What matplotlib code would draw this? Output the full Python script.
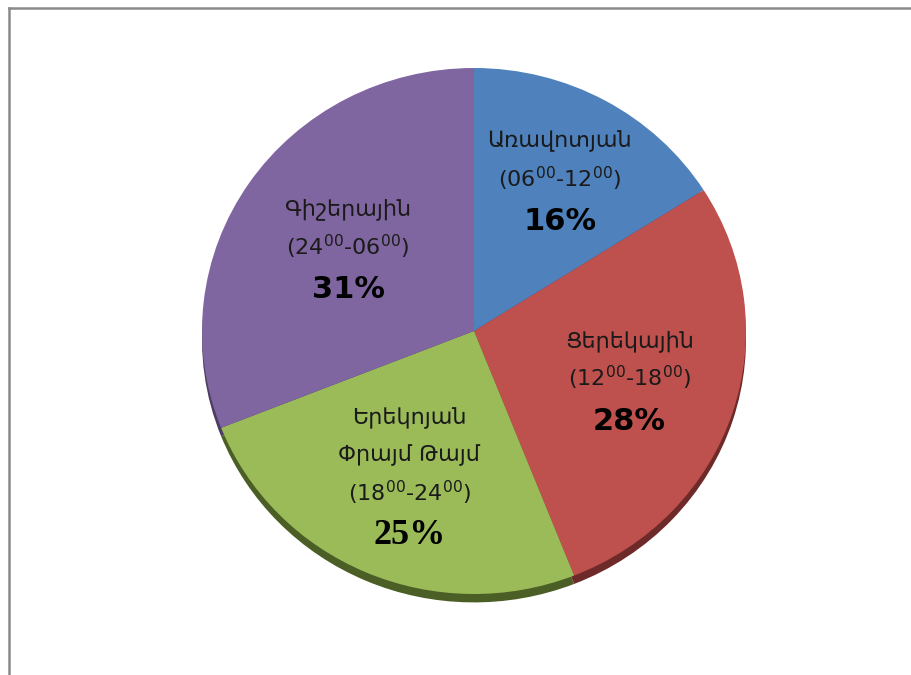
import matplotlib
matplotlib.use("Agg")
import matplotlib.pyplot as plt
from matplotlib.lines import Line2D
import numpy as np

# ---- data ----
names = ["Առավոտյան", "Ցերեկային", "Երեկոյան\nՓրայմ Թայմ", "Գիշերային"]
time_ranges = ["(06$^{00}$-12$^{00}$)", "(12$^{00}$-18$^{00}$)",
               "(18$^{00}$-24$^{00}$)", "(24$^{00}$-06$^{00}$)"]
values = [16, 28, 25, 31]

# ---- style ----
colors = ["#4F81BD", "#BE504D", "#9BBB59", "#8066A0"]
side_colors = ["#2E4E76", "#6E2A28", "#4B5E26", "#4C3C62"]
label_r = [0.655, 0.6, 0.6, 0.56]
pct_fonts = ["DejaVu Sans", "DejaVu Sans", "Liberation Serif", "DejaVu Sans"]
pct_sizes = [22, 22, 26, 22]

plt.rcParams["mathtext.fontset"] = "dejavusans"
plt.rcParams["mathtext.default"] = "regular"

W, H = 911, 675
fig = plt.figure(figsize=(W / 100, H / 100), dpi=100)
fig.patch.set_facecolor("white")

# frame (top and left edges visible)
fig.add_artist(Line2D([9 / W, 1.0], [1 - 8 / H, 1 - 8 / H], color="#8A8A8A", lw=1.8))
fig.add_artist(Line2D([9 / W, 9 / W], [0.0, 1 - 8 / H], color="#8A8A8A", lw=1.8))

cx, cy, rx, ry = 474, 331, 272, 263
ax = fig.add_axes([(cx - rx) / W, 1 - (cy + ry) / H, 2 * rx / W, 2 * ry / H])

# 3D side (thickness) drawn as a darker pie shifted down
ax.pie(values, colors=side_colors, startangle=90, counterclock=False,
       center=(0, -0.032), radius=1.0, wedgeprops=dict(linewidth=0))
ax.pie(values, colors=colors, startangle=90, counterclock=False,
       center=(0, 0), radius=1.0, wedgeprops=dict(linewidth=0))
ax.set_aspect("auto")
ax.set_xlim(-1, 1)
ax.set_ylim(-1, 1)
ax.axis("off")

total = sum(values)
cum = np.cumsum([0] + values)
line_gap = 37
pct_gap = 46
for i, v in enumerate(values):
    mid = (cum[i] + v / 2) / total * 360.0
    th = np.deg2rad(mid)
    x = label_r[i] * np.sin(th)
    y = label_r[i] * np.cos(th)
    lines = names[i].split("\n") + [time_ranges[i]]
    n = len(lines)
    span = line_gap * (n - 1) + pct_gap
    top = -span / 2
    for k, ln in enumerate(lines):
        off = top + k * line_gap
        ax.annotate(ln, (x, y), xytext=(0, -off), textcoords="offset pixels",
                    ha="center", va="center_baseline", fontsize=16, color="#1a1a1a",
                    family=["DejaVu Sans", "Noto Sans"])
    off = top + (n - 1) * line_gap + pct_gap
    ax.annotate(f"{v}%", (x, y), xytext=(0, -off), textcoords="offset pixels",
                ha="center", va="center", fontsize=pct_sizes[i], fontweight="bold",
                color="black", family=pct_fonts[i])

fig.savefig("out.png", dpi=100, facecolor="white")
